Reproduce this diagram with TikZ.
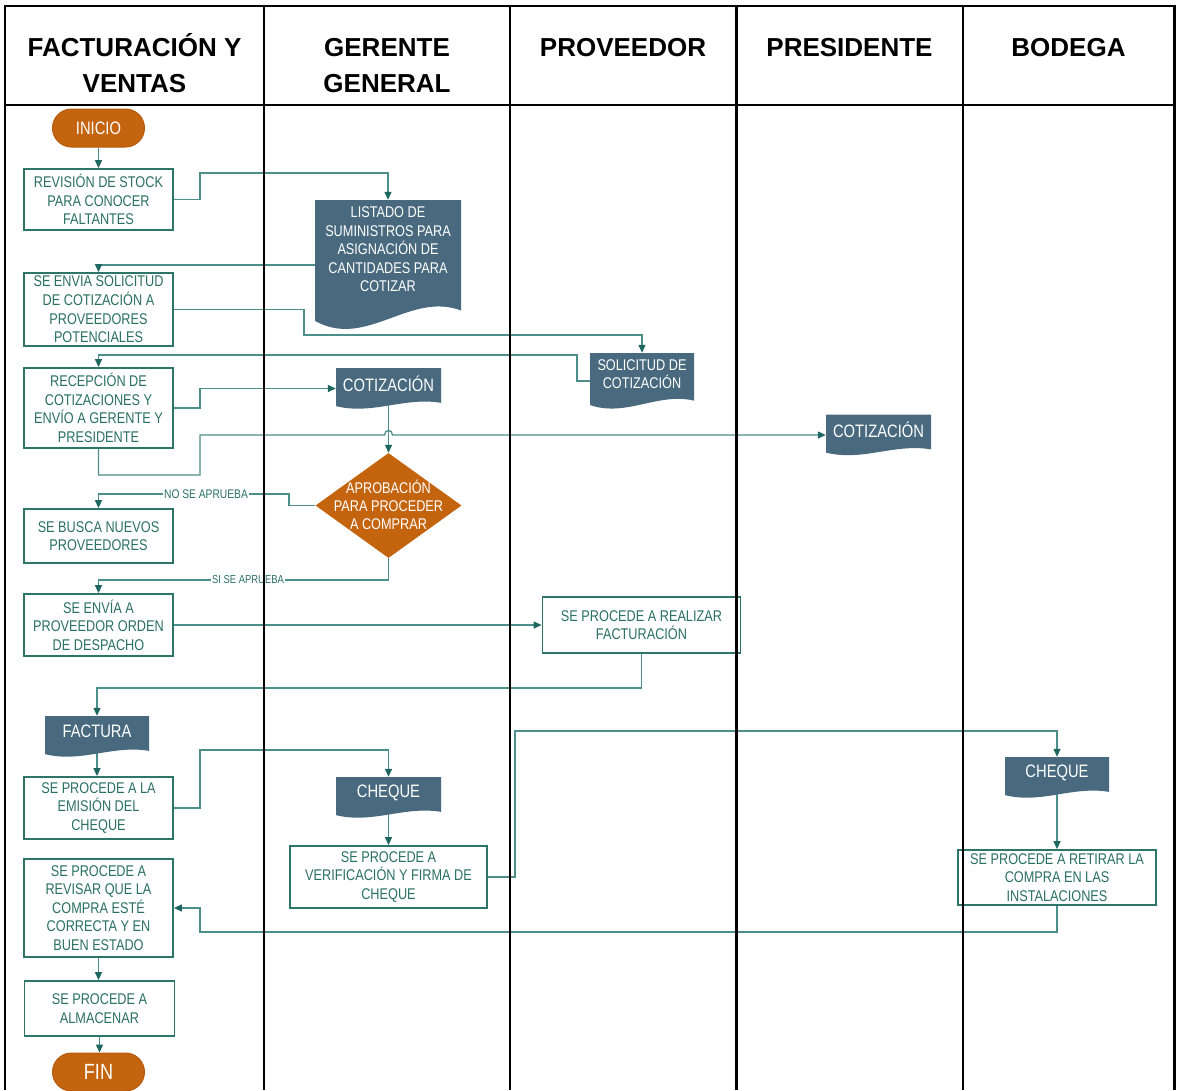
\documentclass[tikz,border=0pt]{standalone}
\usepackage{fontspec}
\setmainfont{Liberation Sans}
\newfontfamily\narrowsans[FakeStretch=0.82]{Liberation Sans}
\usetikzlibrary{shapes.geometric,shapes.misc,arrows.meta,calc}
\pgfdeclarelayer{edges}
\pgfsetlayers{edges,main}

\definecolor{docfill}{HTML}{48697E}
\definecolor{orangefill}{HTML}{C5640F}
\definecolor{orangeline}{HTML}{B85A0C}
\definecolor{boxline}{HTML}{2E7569}
\definecolor{boxtext}{HTML}{2A7064}
\definecolor{edgeline}{HTML}{4B8E8A}
\definecolor{tipcol}{HTML}{1E6660}

\tikzset{
  procbox/.style={rectangle, draw=boxline, line width=1.8pt, fill=white,
    text=boxtext, align=center, inner sep=0pt,
    font=\narrowsans\fontsize{15.5}{18.6}\selectfont},
  docbox/.style={rectangle, draw=none, inner sep=0pt},
  doctext/.style={text=white, align=center, inner sep=0pt},
  terminal/.style={rounded rectangle, fill=orangefill, draw=orangeline,
    line width=1pt, text=white, inner sep=0pt,
    minimum width=92pt, minimum height=38pt},
  decision/.style={diamond, fill=orangefill, draw=none, inner sep=0pt,
    minimum width=146pt, minimum height=105pt},
  conn/.style={draw=edgeline, line width=1.3pt,
    -{Triangle[length=8pt,width=7pt,color=tipcol]}},
  lane/.style={draw=black, line width=2.5pt},
  lanehead/.style={font=\bfseries\fontsize{26}{36}\selectfont, align=center, inner sep=0pt},
  flowlabel/.style={fill=white, text=boxtext, inner sep=1.5pt}
}

% document symbol: #1 name, #2 left, #3 top, #4 right, #5 height, #6 font size, #7 text
\newcommand\docshape[7]{%
  \pgfmathsetmacro\dL{#2}\pgfmathsetmacro\dT{#3}%
  \pgfmathsetmacro\dR{#4}\pgfmathsetmacro\dH{#5}%
  \pgfmathsetmacro\dW{\dR-\dL}\pgfmathsetmacro\dC{(\dL+\dR)/2}%
  \fill[docfill] (\dL,\dT) -- (\dR,\dT) -- (\dR,\dT+0.85*\dH)
    .. controls (\dL+0.65*\dW,\dT+0.70*\dH) and (\dL+0.35*\dW,\dT+1.15*\dH) ..
    (\dL,\dT+0.93*\dH) -- cycle;
  \node[docbox, minimum width=\dW pt, minimum height=\dH pt] (#1) at (\dC,\dT+0.5*\dH) {};
  \node[doctext, font=\narrowsans\fontsize{#6}{18.6}\selectfont] (#1-t) at (\dC,\dT+0.38*\dH) {#7};
}

\begin{document}
\begin{tikzpicture}[x=1pt, y=-1pt]
\useasboundingbox (0,0) rectangle (1177,1090);

% ---- lane headers
\node[lanehead] (h1) at (134.5,63.3) {FACTURACIÓN Y\\VENTAS};
\node[lanehead] (h2) at (387,66) {GERENTE\\GENERAL};
\node[lanehead] (h3) at (623,48) {PROVEEDOR};
\node[lanehead] (h4) at (849.5,48) {PRESIDENTE};
\node[lanehead] (h5) at (1068.5,48) {BODEGA};

% ---- terminals and decision
\node[terminal, font=\narrowsans\fontsize{18}{20}\selectfont] (ini) at (98.5,128) {INICIO};
\node[terminal, font=\narrowsans\fontsize{22}{24}\selectfont] (fin) at (98.5,1072) {FIN};
\node[decision] (dia) at (388.5,505.5) {};
\node[doctext, font=\narrowsans\fontsize{15.5}{18}\selectfont] (dia-t) at (388.5,504.5)
  {APROBACIÓN\\PARA PROCEDER\\A COMPRAR};

% ---- process boxes
\node[procbox, minimum width=149pt, minimum height=61pt] (rev) at (98.5,199.5)
  {REVISIÓN DE STOCK\\PARA CONOCER\\FALTANTES};
\node[procbox, minimum width=149pt, minimum height=73pt] (ss) at (98.5,309.5)
  {SE ENVIA SOLICITUD\\DE COTIZACIÓN A\\PROVEEDORES\\POTENCIALES};
\node[procbox, minimum width=149pt, minimum height=80pt] (rec) at (98.5,408)
  {RECEPCIÓN DE\\COTIZACIONES Y\\ENVÍO A GERENTE Y\\PRESIDENTE};
\node[procbox, minimum width=149pt, minimum height=54pt] (bus) at (98.5,536)
  {SE BUSCA NUEVOS\\PROVEEDORES};
\node[procbox, minimum width=149pt, minimum height=62pt] (env) at (98.5,625)
  {SE ENVÍA A\\PROVEEDOR ORDEN\\DE DESPACHO};
\node[procbox, minimum width=198pt, minimum height=56pt] (fac) at (641.5,625)
  {SE PROCEDE A REALIZAR\\FACTURACIÓN};
\node[procbox, minimum width=149pt, minimum height=62pt] (emi) at (98.5,808)
  {SE PROCEDE A LA\\EMISIÓN DEL\\CHEQUE};
\node[procbox, minimum width=197pt, minimum height=62pt] (ver) at (388.5,877)
  {SE PROCEDE A\\VERIFICACIÓN Y FIRMA DE\\CHEQUE};
\node[procbox, minimum width=149pt, minimum height=98pt] (revq) at (98.5,908)
  {SE PROCEDE A\\REVISAR QUE LA\\COMPRA ESTÉ\\CORRECTA Y EN\\BUEN ESTADO};
\node[procbox, minimum width=150pt, minimum height=55pt] (alm) at (99.5,1008.5)
  {SE PROCEDE A\\ALMACENAR};
\node[procbox, minimum width=198pt, minimum height=55pt] (ret) at (1057,877.5)
  {SE PROCEDE A RETIRAR LA\\COMPRA EN LAS\\INSTALACIONES};

% ---- documents
\docshape{lst}{315}{200}{461}{130}{15.5}{LISTADO DE\\SUMINISTROS PARA\\ASIGNACIÓN DE\\CANTIDADES PARA\\COTIZAR}
\docshape{sol}{590}{353}{694}{56}{15.5}{SOLICITUD DE\\COTIZACIÓN}
\docshape{cot1}{336}{368}{441}{41}{18}{COTIZACIÓN}
\docshape{cot2}{826}{414.5}{931}{41}{18}{COTIZACIÓN}
\docshape{fact}{45}{716}{149}{41}{18}{FACTURA}
\docshape{chq1}{336}{777}{441}{41}{18}{CHEQUE}
\docshape{chq2}{1005}{757}{1109}{41}{18}{CHEQUE}

% ---- connectors
\begin{pgfonlayer}{edges}
\draw[conn] (ini.south) -- (ini.south |- rev.north);
\draw[conn] (rev.east) -| (200,173) -| (lst.north);
\draw[conn] (lst.west) -| (ss.north);
\draw[conn] (ss.east) -| (304,335) -| (sol.north);
\draw[conn] (sol.west) -| (577,355) -| (rec.north);
\draw[conn] (rec.east) -| (200,389) |- (cot1.west);
\draw[conn] (rec.south) |- (200,475) -- (200,435) -- (384.5,435)
  .. controls (384.5,429) and (392.5,429) .. (392.5,435) -- (cot2.west);
\draw[conn] (cot1.center) -- (dia.north);
\draw[conn] (dia.west) -| (289,494) -| (bus.north);
\draw[conn] (dia.south) |- (200,580) -| (env.north);
\draw[conn] (env.east) -- (fac.west);
\draw[conn] (fac.south) |- (200,688) -| (fact.north);
\draw[conn] (fact.center) -- (fact.center |- emi.north);
\draw[conn] (emi.east) -| (200,750) -| (chq1.north);
\draw[conn] (chq1.center) -- (ver.north);
\draw[conn] (ver.east) -| (515,731) -| (chq2.north);
\draw[conn] (chq2.center) -- (ret.north);
\draw[conn] (ret.south) |- (200,932) |- (revq.east);
\draw[conn] (revq.south) -- (revq.south |- alm.north);
\draw[conn] (alm.south) -- (alm.south |- fin.north);
\end{pgfonlayer}

% ---- branch labels
\node[flowlabel, font=\narrowsans\fontsize{12.5}{14}\selectfont] (lno) at (206,494) {NO SE APRUEBA};
\node[flowlabel, font=\narrowsans\fontsize{11.5}{13}\selectfont] (lsi) at (248,580) {SI SE APRUEBA};

% ---- swimlane grid
\draw[lane] (5,1090) -- (5,6) -- (1174.5,6) -- (1174.5,1090);
\draw[lane] (5,105) -- (1174.5,105);
\foreach \cx in {264,510,736.5,963}
  \draw[lane] (\cx,6) -- (\cx,1090);
\end{tikzpicture}
\end{document}
